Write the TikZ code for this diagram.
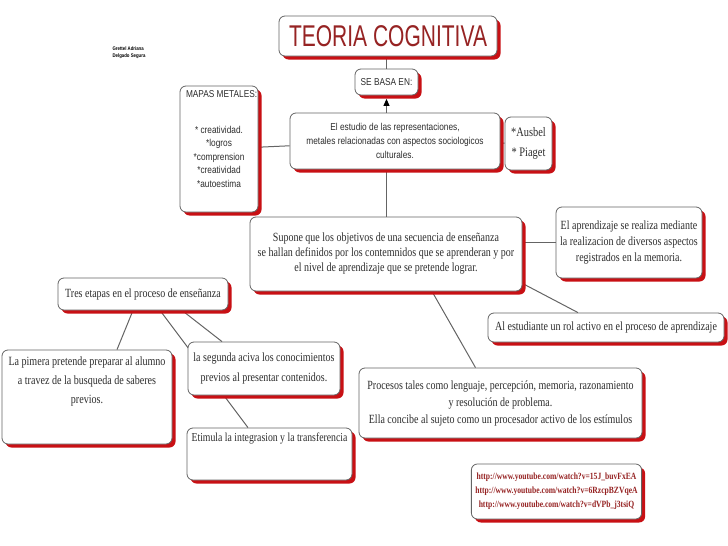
\documentclass[tikz,border=0pt]{standalone}
\usepackage{fontspec}
\setmainfont{Liberation Serif}[FakeStretch=0.8]
\newfontfamily\letrasans{Liberation Sans}[FakeStretch=0.83]
\newfontfamily\letratitulo{Liberation Sans}[FakeStretch=0.7]
\usetikzlibrary{arrows.meta, shadows, backgrounds}

\definecolor{sombra}{RGB}{200,16,20}
\definecolor{borde}{RGB}{100,100,100}
\definecolor{rojotitulo}{RGB}{150,35,35}
\definecolor{texto}{RGB}{45,45,45}

\tikzset{
    caja/.style={draw=borde, line width=0.8pt, rounded corners=6pt, fill=white, text=texto, align=center, inner sep=4pt,
        drop shadow={shadow xshift=3.5pt, shadow yshift=-3.5pt, fill=sombra, opacity=1}},
    textoserif/.style={font=\fontsize{12.5}{15}\selectfont},
    textosans/.style={font=\letrasans\fontsize{10}{14}\selectfont},
    enlace/.style={draw=borde, line width=1pt},
}

\begin{document}
\begin{tikzpicture}[x=1pt, y=-1pt]
    \useasboundingbox (0,0) rectangle (728,546);

    % Titulo
    \node[caja, minimum width=218pt, minimum height=40pt, font=\letratitulo\fontsize{30}{30}\selectfont, text=rojotitulo] (titulo) at (388,36) {TEORIA COGNITIVA};
    \node[font=\letrasans\bfseries\fontsize{5.2}{7}\selectfont, align=left] (autora) at (129,53) {Grettel Adriana\\Delgado Segura};

    % Se basa en
    \node[caja, textosans, minimum width=63pt, minimum height=26pt] (basa) at (386.5,82) {SE BASA EN:};
    \node[caja, textosans, minimum width=210pt, minimum height=56pt] (estudio) at (395,141) {El estudio de las representaciones,\\metales relacionadas con aspectos sociologicos\\culturales.};
    \node[caja, font=\letrasans\fontsize{10}{13.5}\selectfont, inner xsep=4pt, inner ysep=5pt] (mapas) at (219,149) {\parbox[t][116pt][t]{70pt}{\hspace*{2pt}\mbox{MAPAS METALES:}\par\vspace{22pt}\centering * creatividad.\\{}*logros\\{}*comprension\\{}*creatividad\\{}*autoestima}};
    \node[caja, font=\fontsize{13}{20}\selectfont, minimum width=47pt, minimum height=53pt] (autores) at (528.5,143.5) {*Ausbel\\{}* Piaget};

    % Supone
    \node[caja, textoserif, minimum width=272pt, minimum height=74pt] (supone) at (386,254) {Supone que los objetivos de una secuencia de enseñanza\\se hallan definidos por los contemnidos que se aprenderan y por\\el nivel de aprendizaje que se pretende lograr.};
    \node[caja, font=\fontsize{12.5}{16}\selectfont, minimum width=146pt, minimum height=71pt] (aprendizaje) at (629,242.5) {El aprendizaje se realiza mediante\\la realizacion de diversos aspectos\\registrados en la memoria.};
    \node[caja, textoserif, minimum width=236pt, minimum height=29pt] (rol) at (606,327.5) {Al estudiante un rol activo en el proceso de aprendizaje};
    \node[caja, font=\fontsize{12.5}{17}\selectfont, minimum width=283pt, minimum height=70pt] (procesos) at (500.5,403) {Procesos tales como lenguaje, percepción, memoria, razonamiento\\y resolución de problema.\\ Ella concibe al sujeto como un procesador activo de los estímulos};

    % Tres etapas
    \node[caja, textoserif, minimum width=170pt, minimum height=32pt] (etapas) at (143,294) {Tres etapas en el proceso de enseñanza};
    \node[caja, font=\fontsize{12.6}{19}\selectfont, inner xsep=0pt, inner ysep=5pt] (pimera) at (87,397) {\parbox[t][84pt][t]{170pt}{\centering\vspace*{2pt}\mbox{La pimera pretende preparar al alumno}\\a travez de la busqueda de saberes\\previos.}};
    \node[caja, font=\fontsize{12.5}{20}\selectfont, minimum width=152pt, minimum height=53pt] (segunda) at (264,368.5) {la segunda aciva los conocimientos\\previos al presentar contenidos.};
    \node[caja, font=\fontsize{12.2}{15}\selectfont, inner xsep=0pt, inner ysep=5pt] (etimula) at (269.5,454) {\parbox[t][42pt][t]{165pt}{\centering\mbox{Etimula la integrasion y la transferencia}}};

    % Enlaces
    \node[caja, font=\bfseries\fontsize{9.5}{14}\selectfont, text=rojotitulo, minimum width=167pt, minimum height=55pt] (enlaces) at (556.5,491.5) {http://www.youtube.com/watch?v=15J\_buvFxEA\\http://www.youtube.com/watch?v=6RzcpBZVqeA\\http://www.youtube.com/watch?v=dVPb\_j3tsiQ};

    % Conectores
    \begin{scope}[on background layer]
        \draw[enlace] (titulo.south -| basa.north) -- (basa.north);
        \draw[enlace, -{Triangle[length=7pt, width=6pt, color=black]}] (estudio.north -| basa.south) -- ([yshift=-3.5pt]basa.south);
        \draw[enlace] (mapas) -- (estudio);
        \draw[enlace] (estudio) -- (autores);
        \draw[enlace] (estudio.south -| supone.north) -- (supone.north);
        \draw[enlace] (supone.east |- aprendizaje.west) -- (aprendizaje.west);
        \draw[enlace] ([yshift=8pt]supone.south east) -- ([xshift=-28pt]rol.north);
        \draw[enlace] ([xshift=46pt]supone.south) -- ([xshift=-25pt]procesos.north);
        \draw[enlace] ([xshift=-10pt]etapas.south) -- ([xshift=30pt]pimera.north);
        \draw[enlace] ([xshift=39pt]etapas.south) -- ([xshift=-42pt]segunda.north);
        \draw[enlace] ([xshift=17pt]etapas.south) -- ([xshift=-21.5pt]etimula.north);
    \end{scope}

\end{tikzpicture}
\end{document}
